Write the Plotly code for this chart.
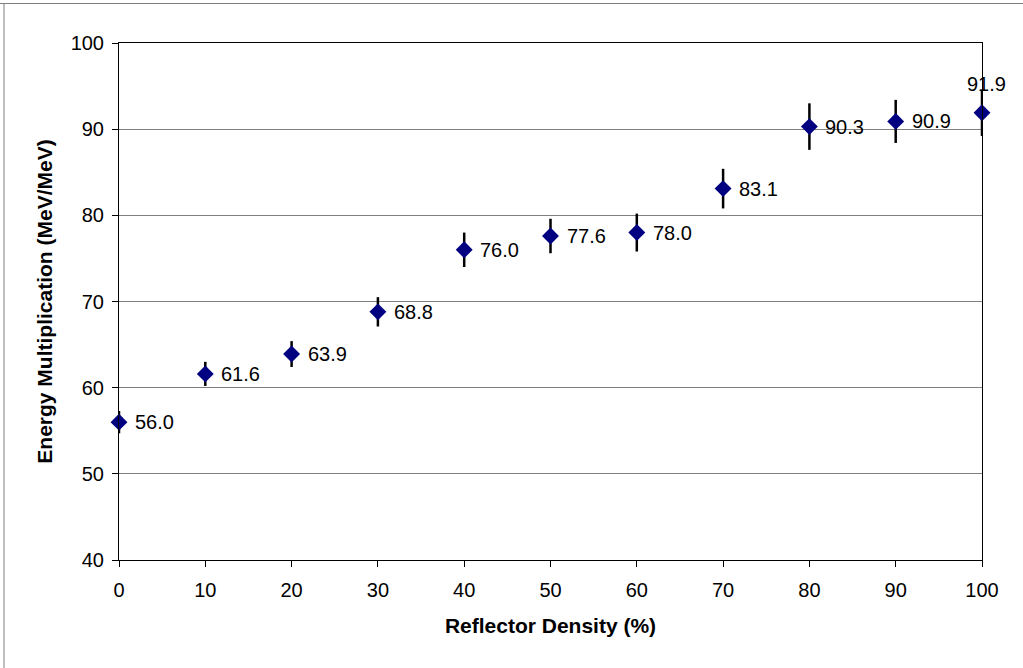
import plotly.graph_objects as go

# Reflector density (%) vs energy multiplication (MeV/MeV)
density = [0, 10, 20, 30, 40, 50, 60, 70, 80, 90, 100]
energy_mult = [56.0, 61.6, 63.9, 68.8, 76.0, 77.6, 78.0, 83.1, 90.3, 90.9, 91.9]
uncertainty = [1.3, 1.4, 1.5, 1.7, 2.0, 2.0, 2.2, 2.3, 2.7, 2.5, 2.7]
label_above = [False] * 10 + [True]

FONT = "Liberation Sans, Arial, sans-serif"

fig = go.Figure()
fig.add_trace(go.Scatter(
    x=density,
    y=energy_mult,
    mode="markers",
    marker=dict(symbol="diamond", size=13, color="#000080"),
    error_y=dict(type="data", array=uncertainty, visible=True,
                 color="black", thickness=2.5, width=0),
    cliponaxis=False,
    showlegend=False,
))

# value labels: right of each point, or above it at the last point
annotations = []
for x, y, above in zip(density, energy_mult, label_above):
    if above:
        annotations.append(dict(x=x, y=y, text=f"{y:.1f}", showarrow=False,
                                xanchor="center", yanchor="bottom", xshift=4, yshift=16))
    else:
        annotations.append(dict(x=x, y=y, text=f"{y:.1f}", showarrow=False,
                                xanchor="left", yanchor="middle", xshift=14))
for a in annotations:
    a["font"] = dict(family=FONT, size=20, color="black")

fig.update_layout(
    width=1023,
    height=668,
    margin=dict(l=119, r=41, t=43, b=108),
    paper_bgcolor="white",
    plot_bgcolor="white",
    font=dict(family=FONT, size=20, color="black"),
    annotations=annotations,
    xaxis=dict(
        range=[0, 100],
        tickmode="array",
        tickvals=list(range(0, 101, 10)),
        ticks="outside",
        ticklen=6,
        tickcolor="black",
        ticklabelstandoff=6,
        showline=True,
        linecolor="black",
        linewidth=1,
        mirror=True,
        showgrid=False,
        zeroline=False,
        title=dict(text="<b>Reflector Density (%)</b>", font=dict(size=21), standoff=18),
    ),
    yaxis=dict(
        range=[40, 100],
        tickmode="array",
        tickvals=list(range(40, 101, 10)),
        ticks="outside",
        ticklen=6,
        tickcolor="black",
        ticklabelstandoff=4,
        showline=True,
        linecolor="black",
        linewidth=1,
        mirror=True,
        showgrid=True,
        gridcolor="#808080",
        gridwidth=1,
        zeroline=False,
        title=dict(text="<b>Energy Multiplication (MeV/MeV)</b>", font=dict(size=21), standoff=12),
    ),
    shapes=[
        dict(type="line", xref="paper", yref="paper", x0=-119 / 863, x1=(1023 - 41) / 863 + 10,
             y0=1 + 39.5 / 517, y1=1 + 39.5 / 517, line=dict(color="#808080", width=1)),
        dict(type="line", xref="paper", yref="paper", x0=-115 / 863, x1=-115 / 863,
             y0=1 + 39.5 / 517, y1=-10, line=dict(color="#808080", width=1)),
    ],
)

fig.write_html("out.html")
